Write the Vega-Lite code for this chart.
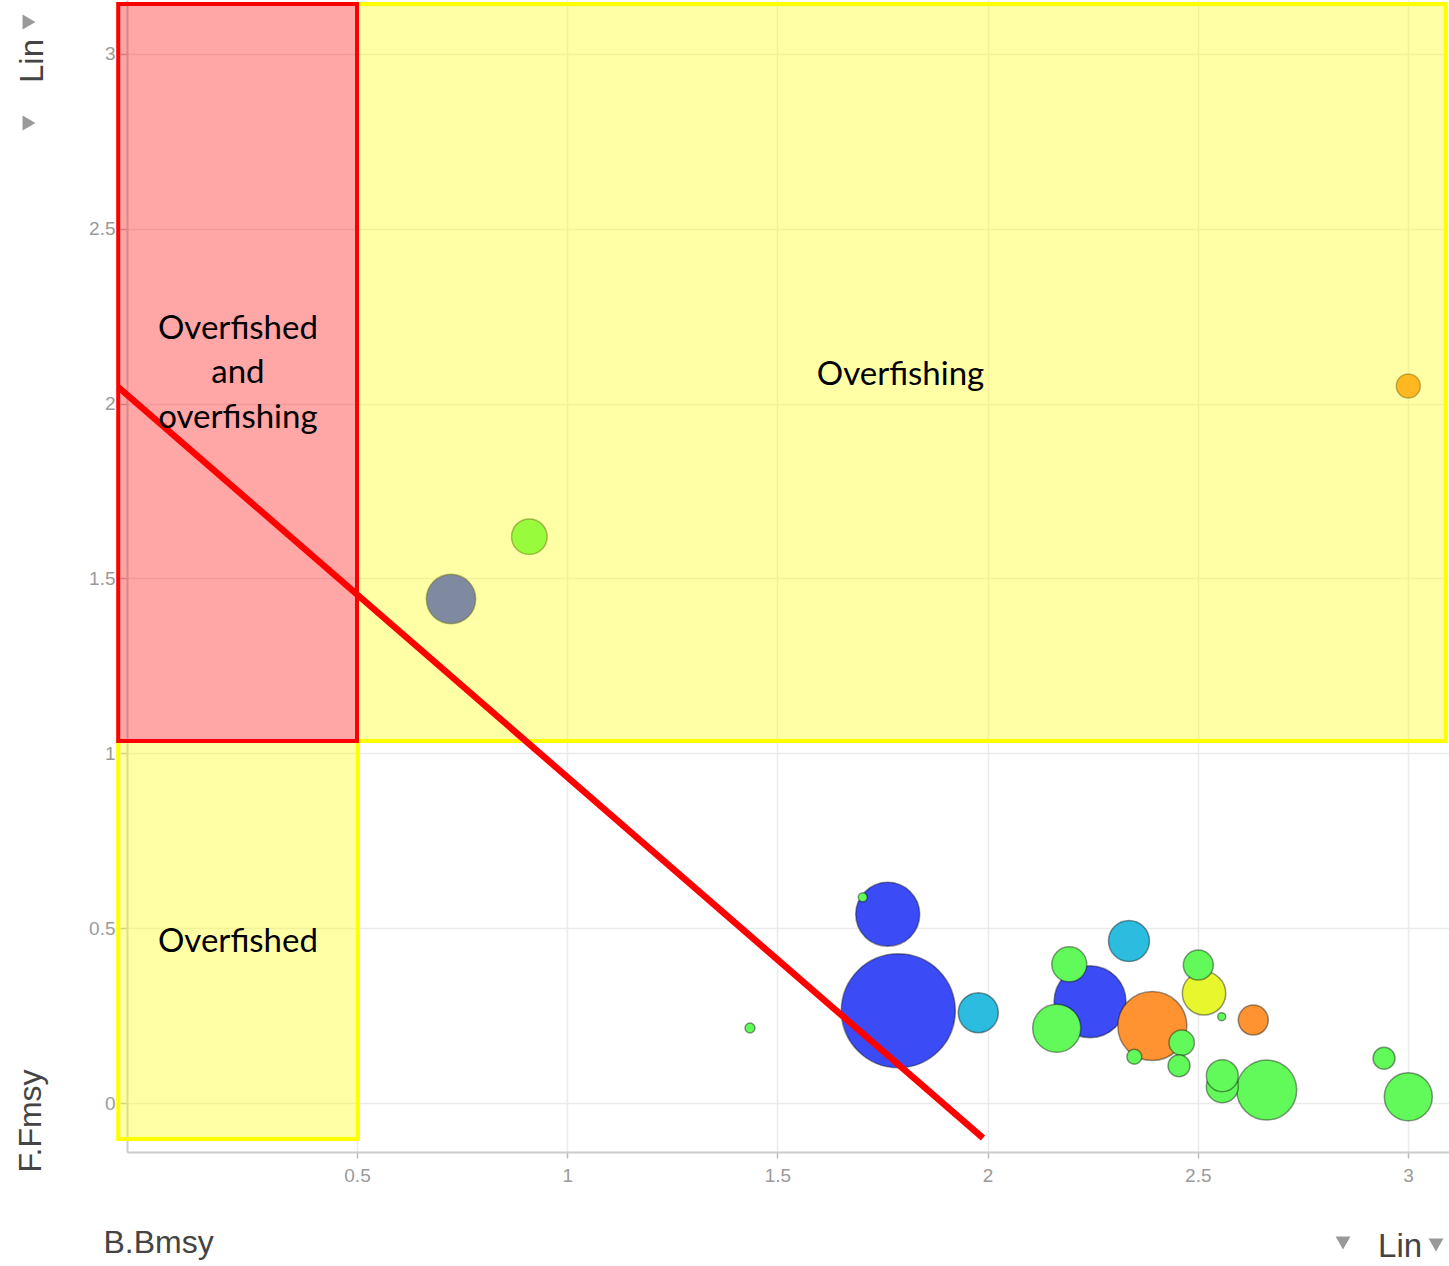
{
  "$schema": "https://vega.github.io/schema/vega-lite/v6.json",
  "width": 1322,
  "height": 1152,
  "autosize": {"type": "none"},
  "padding": {"left": 127, "top": 0, "right": 0, "bottom": 114},
  "background": "white",
  "config": {"view": {"stroke": null}},
  "datasets": {
    "bubbles": [
      {"x": 1.7876, "y": 0.2639, "size": 3249, "group": "Group A"},
      {"x": 2.2436, "y": 0.2897, "size": 1296, "group": "Group A"},
      {"x": 2.3918, "y": 0.2202, "size": 1190, "group": "Group D"},
      {"x": 1.7624, "y": 0.5396, "size": 1024, "group": "Group A"},
      {"x": 2.6639, "y": 0.0372, "size": 900, "group": "Group C"},
      {"x": 0.7236, "y": 1.4412, "size": 610, "group": "Group A"},
      {"x": 2.1644, "y": 0.2136, "size": 576, "group": "Group C"},
      {"x": 3.0007, "y": 0.0180, "size": 576, "group": "Group C"},
      {"x": 2.5148, "y": 0.3137, "size": 471, "group": "Group E"},
      {"x": 2.3363, "y": 0.4633, "size": 420, "group": "Group B"},
      {"x": 1.9779, "y": 0.2582, "size": 400, "group": "Group B"},
      {"x": 0.9099, "y": 1.6194, "size": 317, "group": "Group C"},
      {"x": 2.1943, "y": 0.3966, "size": 306, "group": "Group C"},
      {"x": 2.5583, "y": 0.0466, "size": 256, "group": "Group C"},
      {"x": 2.5583, "y": 0.0781, "size": 256, "group": "Group C"},
      {"x": 2.5012, "y": 0.3946, "size": 225, "group": "Group C"},
      {"x": 2.6320, "y": 0.2373, "size": 225, "group": "Group D"},
      {"x": 2.4617, "y": 0.1724, "size": 161, "group": "Group C"},
      {"x": 3.0007, "y": 2.0503, "size": 144, "group": "Group D"},
      {"x": 2.4553, "y": 0.1067, "size": 121, "group": "Group C"},
      {"x": 2.9430, "y": 0.1278, "size": 121, "group": "Group C"},
      {"x": 2.3490, "y": 0.1324, "size": 56, "group": "Group C"},
      {"x": 1.4348, "y": 0.2145, "size": 25, "group": "Group C"},
      {"x": 1.7029, "y": 0.5882, "size": 20, "group": "Group C"},
      {"x": 2.5569, "y": 0.2468, "size": 16, "group": "Group C"}
    ],
    "yellowZones": [
      {"zone": "Overfishing", "x": 0.5, "x2": 3.090, "y": 1.035, "y2": 3.143},
      {"zone": "Overfished", "x": -0.068, "x2": 0.502, "y": -0.103, "y2": 1.035}
    ],
    "redZones": [
      {"zone": "Overfished and overfishing", "x": -0.068, "x2": 0.5, "y": 1.035, "y2": 3.143}
    ],
    "divider": [
      {"x": -0.068, "y": 2.047},
      {"x": 1.989, "y": -0.100}
    ],
    "labels": [
      {"label": "Overfished", "x": 0.2168, "y": 2.185},
      {"label": "and", "x": 0.2168, "y": 2.059},
      {"label": "overfishing", "x": 0.2168, "y": 1.930},
      {"label": "Overfishing", "x": 1.7929, "y": 2.053},
      {"label": "Overfished", "x": 0.2168, "y": 0.432}
    ],
    "uiVertical": [
      {"label": "Lin", "x": -0.2469, "y": 2.9168}
    ],
    "uiHorizontal": [
      {"label": "Lin", "x": 2.9287, "y": -0.4404}
    ],
    "uiRight": [
      {"x": -0.2802, "y": 3.0912},
      {"x": -0.2802, "y": 2.8024}
    ],
    "uiDown": [
      {"x": 2.8454, "y": -0.4003},
      {"x": 3.0666, "y": -0.4061}
    ]
  },
  "encoding": {
    "x": {
      "field": "x",
      "type": "quantitative",
      "scale": {"domain": [-0.0471, 3.0975], "nice": false, "zero": false},
      "axis": {
        "values": [0.5, 1, 1.5, 2, 2.5, 3],
        "format": "~g",
        "grid": true,
        "gridColor": "#ebebeb",
        "gridWidth": 1.5,
        "domainColor": "#cccccc",
        "domainWidth": 2,
        "tickColor": "#bbbbbb",
        "tickSize": 6,
        "tickWidth": 1.5,
        "labelFont": "Liberation Sans",
        "labelFontSize": 19,
        "labelColor": "#9a9a9a",
        "labelPadding": 8,
        "title": "B.Bmsy",
        "titleFont": "Liberation Sans",
        "titleFontSize": 32,
        "titleFontWeight": "normal",
        "titleColor": "#444444",
        "titleAnchor": "start",
        "titleAlign": "left",
        "titleBaseline": "alphabetic",
        "titleAngle": 0,
        "titleX": -24,
        "titleY": 100
      }
    },
    "y": {
      "field": "y",
      "type": "quantitative",
      "scale": {"domain": [-0.1401, 3.1541], "nice": false, "zero": false},
      "axis": {
        "values": [0, 0.5, 1, 1.5, 2, 2.5, 3],
        "format": "~g",
        "grid": true,
        "gridColor": "#ebebeb",
        "gridWidth": 1.5,
        "domainColor": "#cccccc",
        "domainWidth": 2,
        "tickColor": "#bbbbbb",
        "tickSize": 7,
        "tickWidth": 1.5,
        "labelFont": "Liberation Sans",
        "labelFontSize": 19,
        "labelColor": "#9a9a9a",
        "labelPadding": 5,
        "title": "F.Fmsy",
        "titleFont": "Liberation Sans",
        "titleFontSize": 32,
        "titleFontWeight": "normal",
        "titleColor": "#444444",
        "titleAngle": 270,
        "titleAlign": "left",
        "titleBaseline": "alphabetic",
        "titleX": -87,
        "titleY": 1172
      }
    }
  },
  "layer": [
    {
      "data": {"name": "bubbles"},
      "mark": {"type": "circle", "opacity": 1, "stroke": "#000000", "strokeOpacity": 0.4, "strokeWidth": 1.5},
      "encoding": {
        "size": {"field": "size", "type": "quantitative", "scale": {"domain": [0, 3249], "range": [0, 12996]}, "legend": null},
        "color": {
          "field": "group",
          "type": "nominal",
          "scale": {
            "domain": ["Group A", "Group B", "Group C", "Group D", "Group E"],
            "range": ["#3b4cf6", "#2cbcdf", "#62f95b", "#ff9332", "#e8f72d"]
          },
          "legend": null
        }
      }
    },
    {
      "data": {"name": "yellowZones"},
      "mark": {"type": "rect", "fill": "#ffff00", "fillOpacity": 0.35, "stroke": "#ffff00", "strokeWidth": 4},
      "encoding": {
        "x2": {"field": "x2"},
        "y2": {"field": "y2"}
      }
    },
    {
      "data": {"name": "redZones"},
      "mark": {"type": "rect", "fill": "#ff0000", "fillOpacity": 0.35, "stroke": "#ff0000", "strokeWidth": 4},
      "encoding": {
        "x2": {"field": "x2"},
        "y2": {"field": "y2"}
      }
    },
    {
      "data": {"name": "divider"},
      "mark": {"type": "line", "color": "#ff0000", "strokeWidth": 6.5, "strokeCap": "butt"},
      "encoding": {}
    },
    {
      "data": {"name": "labels"},
      "mark": {"type": "text", "font": "Lato", "fontSize": 33, "color": "#000000", "align": "center", "baseline": "alphabetic"},
      "encoding": {"text": {"field": "label", "type": "nominal"}}
    },
    {
      "data": {"name": "uiVertical"},
      "mark": {"type": "text", "font": "Liberation Sans", "fontSize": 33, "color": "#444444", "align": "left", "baseline": "alphabetic", "angle": 270},
      "encoding": {"text": {"field": "label", "type": "nominal"}}
    },
    {
      "data": {"name": "uiHorizontal"},
      "mark": {"type": "text", "font": "Liberation Sans", "fontSize": 33, "color": "#444444", "align": "left", "baseline": "alphabetic"},
      "encoding": {"text": {"field": "label", "type": "nominal"}}
    },
    {
      "data": {"name": "uiRight"},
      "mark": {"type": "point", "shape": "triangle-right", "filled": true, "color": "#999999", "opacity": 1, "size": 220}
    },
    {
      "data": {"name": "uiDown"},
      "mark": {"type": "point", "shape": "triangle-down", "filled": true, "color": "#999999", "opacity": 1, "size": 220}
    }
  ]
}
